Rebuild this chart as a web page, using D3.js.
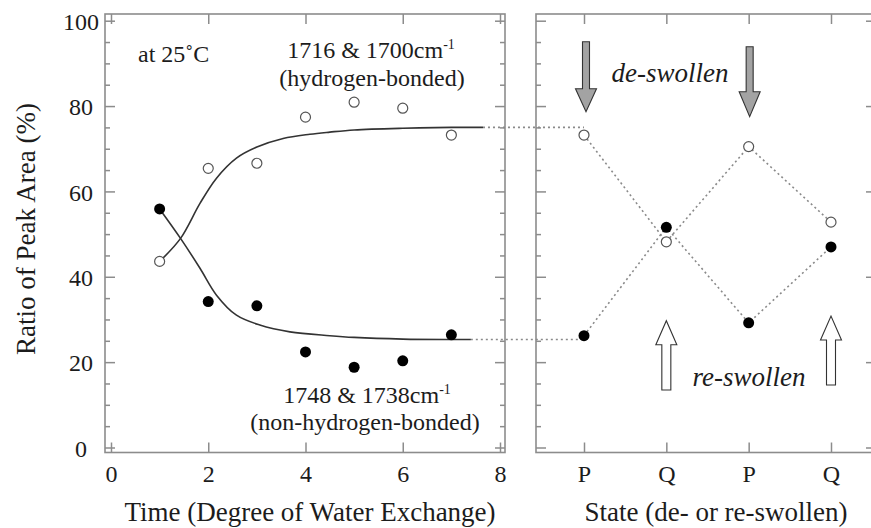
<!DOCTYPE html>
<html>
<head>
<meta charset="utf-8">
<script src="https://cdn.jsdelivr.net/npm/d3@7"></script>
<style>
  body { margin: 0; background: #fff; }
  svg text { font-family: "Liberation Serif", "Times New Roman", serif; fill: #1c1c1c; }
  .frame { fill: none; stroke: #8c8c8c; stroke-width: 1.6; }
  .tick line { stroke: #8c8c8c; stroke-width: 1.5; }
</style>
</head>
<body>
<div id="chart"></div>
<script>
// time (degree of water exchange) and peak area ratios
var times = [1, 2, 3, 4, 5, 6, 7];
var hBonded = [43.6, 65.4, 66.6, 77.4, 80.9, 79.5, 73.2];
var nonHBonded = [55.9, 34.2, 33.2, 22.4, 18.8, 20.3, 26.4];

// fitted curves
var hFitX = [1, 1.43, 1.83, 2.17, 2.58, 3.0, 3.54, 4.09, 4.5, 5, 6, 7, 7.65];
var hFitY = [43.6, 49.0, 57.2, 63.1, 67.8, 70.4, 72.4, 73.4, 73.9, 74.4, 74.8, 75, 75];
var nFitX = [1, 1.43, 1.83, 2.17, 2.58, 3.06, 3.68, 4.5, 5, 6, 7, 7.4];
var nFitY = [55.9, 49.0, 42.0, 35.7, 31.0, 28.7, 27.1, 26.2, 25.8, 25.4, 25.3, 25.3];

// de-swollen / re-swollen states
var states = ["P", "Q", "P", "Q"];
var hState = [73.2, 48.2, 70.5, 52.8];
var nState = [26.2, 51.6, 29.2, 47.0];

var xTicks = [0, 2, 4, 6, 8];
var yTicks = [0, 20, 40, 60, 80, 100];
var yMinor = [5, 10, 15, 25, 30, 35, 45, 50, 55, 65, 70, 75, 85, 90, 95];

var svg = d3.select("#chart").append("svg")
  .attr("width", 871)
  .attr("height", 528);

var top0 = 14, bot0 = 452.5;
var leftL = 105, rightL = 505, leftR = 536, rightR = 876;

var y = d3.scaleLinear().domain([0, 100]).range([447.5, 20.7]);
var x = d3.scaleLinear().domain([0, 8]).range([111, 500]);
var xs = d3.scaleLinear().domain([0, 3]).range([584, 831]);

// frames
svg.append("rect").attr("class", "frame")
  .attr("x", leftL).attr("y", top0)
  .attr("width", rightL - leftL).attr("height", bot0 - top0);
svg.append("rect").attr("class", "frame")
  .attr("x", leftR).attr("y", top0)
  .attr("width", rightR - leftR).attr("height", bot0 - top0);

function addAxis(axis, tx, ty) {
  var g = svg.append("g")
    .attr("transform", "translate(" + tx + "," + ty + ")")
    .call(axis);
  g.select(".domain").remove();
  return g;
}

// left panel y axes
var gy = addAxis(d3.axisLeft(y).tickValues(yTicks).tickSize(-10).tickPadding(0), leftL, 0);
gy.selectAll("text")
  .attr("x", 81 - leftL)
  .attr("dy", "0.36em")
  .attr("text-anchor", "middle")
  .style("font-size", "24px");
addAxis(d3.axisLeft(y).tickValues(yMinor).tickSize(-5).tickFormat(""), leftL, 0);
addAxis(d3.axisRight(y).tickValues(yTicks).tickSize(-10).tickFormat(""), rightL, 0);
addAxis(d3.axisRight(y).tickValues(yMinor).tickSize(-5).tickFormat(""), rightL, 0);

// left panel x axes
var gx = addAxis(d3.axisBottom(x).tickValues(xTicks).tickSize(-10).tickPadding(0), 0, bot0);
gx.selectAll("text")
  .attr("y", 0)
  .attr("dy", 29.5)
  .style("font-size", "24px");
addAxis(d3.axisTop(x).tickValues(xTicks).tickSize(-10).tickFormat(""), 0, top0);

// right panel axes
addAxis(d3.axisRight(y).tickValues(yTicks).tickSize(10).tickFormat(""), leftR, 0);
addAxis(d3.axisRight(y).tickValues(yMinor).tickSize(5).tickFormat(""), leftR, 0);
addAxis(d3.axisLeft(y).tickValues(yTicks).tickSize(10).tickFormat(""), rightR, 0);
var gs = addAxis(d3.axisBottom(xs).tickValues([0, 1, 2, 3]).tickSize(-10)
  .tickFormat(function (d) { return states[d]; }), 0, bot0);
gs.selectAll("text")
  .attr("y", 0)
  .attr("dy", 29.5)
  .style("font-size", "24px");
addAxis(d3.axisTop(xs).tickValues([0, 1, 2, 3]).tickSize(-10).tickFormat(""), 0, top0);

svg.selectAll(".tick line").attr("stroke", "#8c8c8c").attr("stroke-width", 1.5);

// dotted connectors
var dotted = { stroke: "#8a8a8a", width: 1.6, dash: "2,3" };
function dotLine(pts) {
  svg.append("path")
    .attr("d", d3.line()(pts))
    .attr("fill", "none")
    .attr("stroke", dotted.stroke)
    .attr("stroke-width", dotted.width)
    .attr("stroke-dasharray", dotted.dash);
}
dotLine([[x(hFitX[hFitX.length - 1]), y(hFitY[hFitY.length - 1])], [xs(0), y(hFitY[hFitY.length - 1])]]);
dotLine([[x(nFitX[nFitX.length - 1]), y(nFitY[nFitY.length - 1])], [xs(0), y(nFitY[nFitY.length - 1])]]);
dotLine(hState.map(function (v, i) { return [xs(i), y(v)]; }));
dotLine(nState.map(function (v, i) { return [xs(i), y(v)]; }));

// fit curves
var fit = d3.line().curve(d3.curveCatmullRom.alpha(0.5));
svg.append("path")
  .attr("d", fit(hFitX.map(function (v, i) { return [x(v), y(hFitY[i])]; })))
  .attr("fill", "none").attr("stroke", "#333").attr("stroke-width", 1.6);
svg.append("path")
  .attr("d", fit(nFitX.map(function (v, i) { return [x(v), y(nFitY[i])]; })))
  .attr("fill", "none").attr("stroke", "#333").attr("stroke-width", 1.6);

// points
function openPts(xv, yv) {
  svg.append("g").selectAll("circle")
    .data(yv).enter().append("circle")
    .attr("cx", function (d, i) { return xv(i); })
    .attr("cy", function (d) { return y(d); })
    .attr("r", 5)
    .attr("fill", "#fff").attr("stroke", "#555").attr("stroke-width", 1.2);
}
function filledPts(xv, yv) {
  svg.append("g").selectAll("circle")
    .data(yv).enter().append("circle")
    .attr("cx", function (d, i) { return xv(i); })
    .attr("cy", function (d) { return y(d); })
    .attr("r", 5.5)
    .attr("fill", "#000");
}
openPts(function (i) { return x(times[i]); }, hBonded);
filledPts(function (i) { return x(times[i]); }, nonHBonded);
openPts(xs, hState);
filledPts(xs, nState);

// block arrows
function arrow(cx, yFrom, yTip, shaftW, headW, headL, fill) {
  var dir = yTip > yFrom ? 1 : -1;
  var base = yTip - dir * headL;
  var pts = [
    [cx - shaftW / 2, yFrom], [cx + shaftW / 2, yFrom], [cx + shaftW / 2, base],
    [cx + headW / 2, base], [cx, yTip], [cx - headW / 2, base], [cx - shaftW / 2, base]
  ];
  svg.append("path")
    .attr("d", d3.line()(pts) + "Z")
    .attr("fill", fill).attr("stroke", "#333").attr("stroke-width", 1.1);
}
arrow(xs(0) + 2, 41.7, 111.7, 7, 21, 23, "#a3a3a3");
arrow(xs(2) + 1, 46.7, 116.7, 7, 21, 25, "#a3a3a3");
arrow(xs(1), 390, 320.7, 9, 21, 24, "#fff");
arrow(xs(3), 385, 316, 9, 21, 24, "#fff");

// annotations
function label(txt, tx, ty, size, anchor, italic) {
  return svg.append("text")
    .attr("x", tx).attr("y", ty)
    .attr("text-anchor", anchor)
    .style("font-size", size + "px")
    .style("font-style", italic ? "italic" : "normal")
    .text(txt);
}
label("at 25\u02DAC", 138, 61.5, 24, "start");

var t1 = label("1716 & 1700cm", 371, 58, 24, "middle");
t1.append("tspan").attr("dy", -9).style("font-size", "14px").text("-1");
label("(hydrogen-bonded)", 372, 86, 24, "middle");

var t2 = label("1748 & 1738cm", 367, 402.5, 24, "middle");
t2.append("tspan").attr("dy", -9).style("font-size", "14px").text("-1");
label("(non-hydrogen-bonded)", 365, 430, 24, "middle");

label("de-swollen", 670, 82, 27, "middle", true);
label("re-swollen", 749, 386, 27, "middle", true);

// axis titles
label("Time (Degree of Water Exchange)", 310, 521, 27, "middle");
label("State (de- or re-swollen)", 716, 521, 27, "middle");
svg.append("text")
  .attr("transform", "translate(35,229) rotate(-90)")
  .attr("text-anchor", "middle")
  .style("font-size", "27px")
  .text("Ratio of Peak Area (%)");
</script>
</body>
</html>
